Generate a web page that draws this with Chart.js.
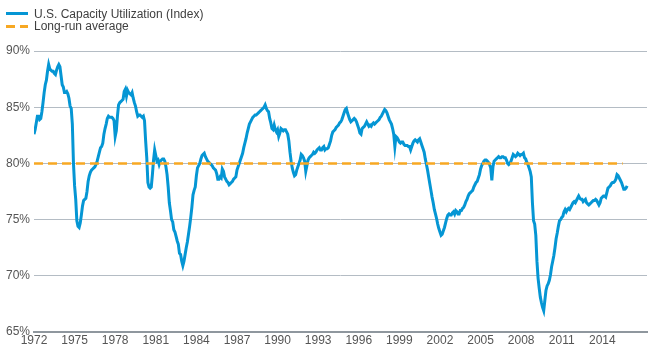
<!DOCTYPE html>
<html>
<head>
<meta charset="utf-8">
<script src="https://cdn.jsdelivr.net/npm/chart.js@4.4.1/dist/chart.umd.min.js"></script>
<style>
  body { margin: 0; background: #fff; }
  #wrap { position: relative; width: 650px; height: 350px; }
  .legend { position: absolute; left: 0; top: 0; font: 12px "Liberation Sans", Arial, sans-serif; color: #404040; }
  .row { position: absolute; left: 0; width: 260px; height: 12px; white-space: nowrap; }
  .row .txt { position: absolute; left: 34px; top: 0; line-height: 12px; }
  .swatch { position: absolute; top: 4.5px; height: 3px; }
</style>
</head>
<body>
<div id="wrap">
  <canvas id="chart"></canvas>
  <div class="legend">
    <div class="row" style="top:7.5px">
      <span class="swatch" style="left:6px;width:22px;background:#0596d4"></span>
      <span class="txt" id="lab0"></span>
    </div>
    <div class="row" style="top:20px">
      <span class="swatch" style="left:6px;width:9px;background:#f7a823"></span>
      <span class="swatch" style="left:20px;width:8px;background:#f7a823"></span>
      <span class="txt" id="lab1"></span>
    </div>
  </div>
</div>
<script>
// monthly capacity utilization, starting Jan 1972
const startYear = 1972;
const seriesLabels = ["U.S. Capacity Utilization (Index)", "Long-run average"];

const util1970s = [
  82.6, 83.0, 83.6, 84.2, 84.2, 83.9, 84.0, 84.6, 85.4, 86.3, 87.0, 87.4,
  88.2, 88.8, 88.4, 88.3, 88.2, 88.2, 88.0, 87.9, 88.3, 88.6, 88.8, 88.6,
  87.8, 87.0, 86.8, 86.3, 86.3, 86.4, 86.2, 85.8, 85.1, 84.9, 83.5, 80.0,
  78.0, 76.8, 74.9, 74.4, 74.3, 74.7, 75.4, 76.2, 76.7, 76.8, 76.9, 77.5,
  78.4, 78.9, 79.2, 79.4, 79.5, 79.6, 79.7, 79.9, 80.2, 80.6, 81.0, 81.4,
  81.5, 81.8, 82.6, 83.1, 83.5, 84.0, 84.2, 84.1, 84.1, 84.1, 84.0, 83.8,
  82.4, 82.9, 84.2, 85.2, 85.4, 85.5, 85.6, 85.7, 86.4, 86.6, 86.0, 86.5,
  86.3, 86.2, 86.1, 86.3, 85.8, 85.4, 85.1, 84.6, 84.2, 84.3, 84.3, 84.2
];
const util1980s = [
  84.1, 84.2, 83.8, 82.0, 80.5, 78.3, 77.9, 77.8, 77.9, 79.0, 80.3, 81.2,
  80.7, 80.2, 80.3, 79.9, 80.2, 80.3, 80.4, 80.4, 80.2, 79.7, 79.0, 77.9,
  76.5, 75.8, 75.0, 74.8, 74.1, 73.9, 73.5, 73.1, 72.8, 72.0, 71.9, 71.3,
  70.9, 71.3, 71.9, 72.5, 73.0, 73.7, 74.4, 75.2, 76.1, 77.2, 77.6, 77.9,
  78.9, 79.6, 79.8, 80.0, 80.4, 80.7, 80.8, 80.9, 80.6, 80.4, 80.2, 80.1,
  80.0, 79.9, 79.8, 79.6, 79.5, 79.4, 79.1, 78.6, 78.6, 78.8, 78.7, 79.5,
  79.3, 78.8, 78.6, 78.4, 78.3, 78.1, 78.2, 78.3, 78.4, 78.6, 78.7, 78.8,
  79.4, 79.7, 80.0, 80.3, 80.6, 80.9, 81.4, 81.8, 82.2, 82.7, 83.1, 83.5,
  83.7, 83.9, 84.1, 84.2, 84.3, 84.3, 84.4, 84.5, 84.6, 84.7, 84.8, 84.9,
  85.0, 85.2, 84.9, 84.7, 84.6, 84.0, 83.6, 83.1, 83.0, 83.4, 83.0, 82.8
];
const util1990s = [
  83.0, 82.4, 82.7, 83.1, 83.0, 82.9, 83.0, 83.0, 82.8, 82.6, 82.0, 81.0,
  80.2, 79.6, 79.2, 78.9, 79.0, 79.4, 79.7, 80.0, 80.3, 80.8, 80.7, 80.5,
  80.2, 79.3, 79.8, 80.3, 80.5, 80.6, 80.7, 80.8, 81.0, 80.9, 81.0, 81.2,
  81.3, 81.4, 81.2, 81.2, 81.4, 81.5, 81.2, 81.3, 81.3, 81.4, 81.7, 82.0,
  82.5, 82.8, 82.9, 83.0, 83.2, 83.3, 83.4, 83.6, 83.7, 83.9, 84.2, 84.5,
  84.8, 84.9, 84.5, 84.2, 83.9, 83.7, 83.8, 83.9, 84.0, 83.9, 83.7, 83.4,
  83.1, 82.7, 82.6, 83.1, 83.2, 83.3, 83.5, 83.7, 83.5, 83.3, 83.4, 83.3,
  83.5, 83.6, 83.5, 83.6, 83.7, 83.8, 83.9, 84.1, 84.2, 84.4, 84.6, 84.8,
  84.7, 84.5, 84.2, 83.9, 83.7, 83.5, 83.1, 82.6, 81.5, 82.4, 82.3, 82.1,
  81.9, 81.8, 81.9, 81.9, 81.7, 81.6, 81.6, 81.6, 81.5, 81.5, 81.2, 81.5
];
const util2000s = [
  81.8, 82.0, 82.1, 82.0, 81.9, 82.1, 82.2, 81.9, 81.6, 81.3, 81.0, 80.4,
  79.9, 79.4, 78.8, 78.2, 77.6, 77.0, 76.5, 75.9, 75.5, 75.1, 74.6, 74.2,
  73.9, 73.6, 73.7, 74.0, 74.3, 74.7, 75.1, 75.4, 75.5, 75.4, 75.4, 75.6,
  75.7, 75.5, 75.8, 75.7, 75.5, 75.5, 75.8, 75.8, 76.0, 76.1, 76.3, 76.6,
  76.8, 77.1, 77.3, 77.4, 77.5, 77.6, 77.9, 78.1, 78.3, 78.4, 78.7, 79.0,
  79.5, 79.8, 80.0, 80.2, 80.3, 80.3, 80.2, 80.1, 79.9, 79.6, 78.5, 79.7,
  80.2, 80.3, 80.4, 80.5, 80.6, 80.5, 80.5, 80.6, 80.6, 80.5, 80.5, 80.3,
  80.0, 79.9, 80.0, 80.2, 80.5, 80.8, 80.7, 80.6, 80.7, 80.9, 80.8, 80.7,
  80.8, 80.8, 80.9, 80.5, 80.4, 80.1, 79.9, 79.6, 79.3, 78.8, 76.5, 74.9,
  74.6, 73.6, 71.3, 69.8, 68.9, 68.1, 67.6, 67.2, 66.9, 67.8, 68.7, 69.1
];
const util2010s = [
  69.3, 69.6, 70.1, 70.8, 71.3, 71.8, 72.5, 73.3, 73.8, 74.4, 74.9, 75.0,
  75.2, 75.3, 75.7, 75.9, 75.7, 75.9, 76.0, 75.9, 76.1, 76.3, 76.5, 76.6,
  76.5, 76.7, 76.9, 77.1, 76.9, 76.8, 76.8, 76.6, 76.7, 76.8, 76.5, 76.4,
  76.3, 76.4, 76.5, 76.6, 76.7, 76.7, 76.8, 76.7, 76.5, 76.3, 76.5, 76.9,
  77.0, 77.1, 77.1, 77.0, 77.4, 77.8, 77.9, 78.0, 78.2, 78.3, 78.3, 78.4,
  78.6, 79.0, 78.9, 78.7, 78.5, 78.3, 78.0, 77.7, 77.7, 77.8, 78.0
];

const avgLevel = 80.0;
const avgSpan = [1972, 2015.5];
const yearTicks = [1972, 1975, 1978, 1981, 1984, 1987, 1990, 1993, 1996, 1999, 2002, 2005, 2008, 2011, 2014];

const utilization = [...util1970s, ...util1980s, ...util1990s, ...util2000s, ...util2010s];

document.getElementById("lab0").textContent = seriesLabels[0];
document.getElementById("lab1").textContent = seriesLabels[1];

Chart.defaults.font.family = '"Liberation Sans", Arial, sans-serif';
Chart.defaults.font.size = 12;

const ctx = document.getElementById("chart").getContext("2d");
new Chart(ctx, {
  type: "line",
  data: {
    datasets: [
      {
        label: seriesLabels[0],
        data: utilization.map((v, i) => ({ x: startYear + i / 12, y: v })),
        borderColor: "#0596d4",
        borderWidth: 3,
        pointRadius: 0,
        tension: 0,
        order: 1
      },
      {
        label: seriesLabels[1],
        data: avgSpan.map(x => ({ x, y: avgLevel })),
        borderColor: "#f7a823",
        borderWidth: 2.5,
        borderDash: [9, 5],
        pointRadius: 0,
        order: 0
      }
    ]
  },
  options: {
    responsive: true,
    maintainAspectRatio: false,
    animation: false,
    devicePixelRatio: 1,
    layout: { padding: { top: 51, right: 3, left: 0, bottom: 0 } },
    plugins: { legend: { display: false }, tooltip: { enabled: false } },
    scales: {
      x: {
        type: "linear",
        min: 1972,
        max: 2017.3,
        grid: { display: false, drawTicks: false },
        border: { display: true, color: "#8f979e", width: 2 },
        afterBuildTicks: scale => { scale.ticks = yearTicks.map(v => ({ value: v })); },
        afterFit: scale => { scale.height = 18; },
        ticks: {
          autoSkip: false,
          maxRotation: 0,
          padding: 1,
          color: "#555",
          callback: v => String(v)
        }
      },
      y: {
        min: 65,
        max: 90,
        afterFit: scale => { scale.width = 34; },
        grid: { color: "#b4bcc4", lineWidth: 1, drawTicks: false },
        border: { display: false },
        ticks: {
          stepSize: 5,
          padding: 4,
          color: "#555",
          callback: v => v + "%"
        }
      }
    }
  }
});
</script>
</body>
</html>
